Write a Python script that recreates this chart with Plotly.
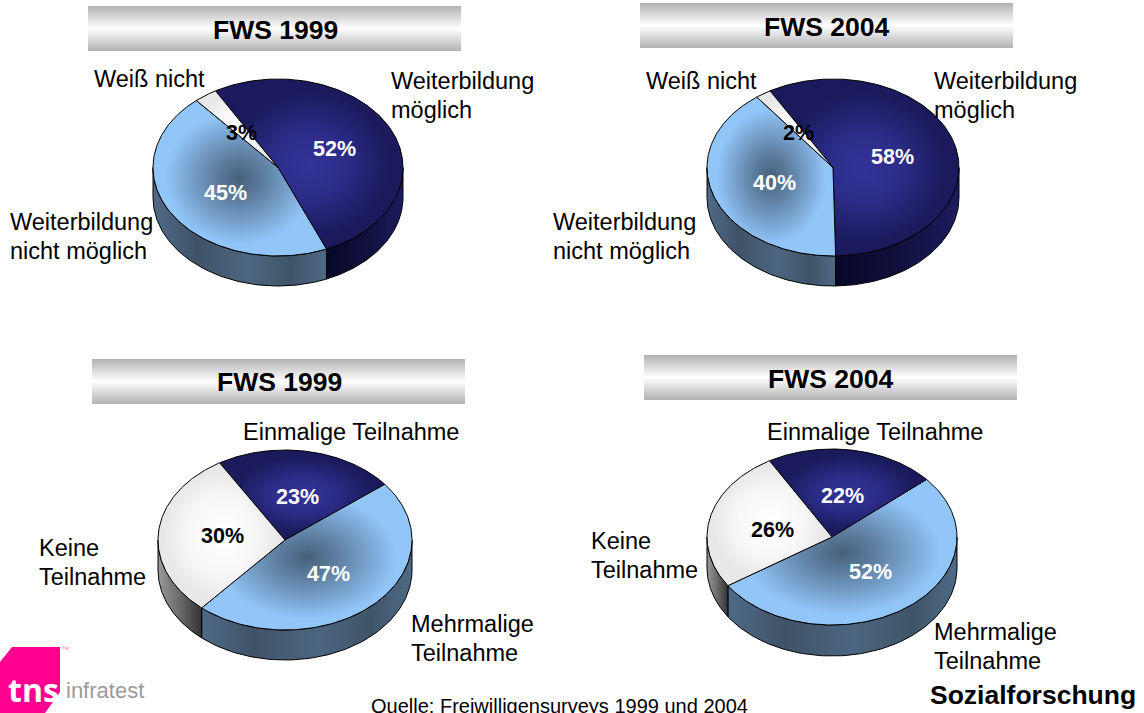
import numpy as np
import plotly.graph_objects as go

# ---- data ----
titles = ["FWS 1999", "FWS 2004", "FWS 1999", "FWS 2004"]
values_1999_a = [52, 45, 3]
values_2004_a = [58, 40, 2]
values_1999_b = [23, 47, 30]
values_2004_b = [22, 52, 26]
labels_a = ["Weiterbildung<br>möglich", "Weiterbildung<br>nicht möglich", "Weiß nicht"]
labels_b = ["Einmalige Teilnahme", "Mehrmalige<br>Teilnahme", "Keine<br>Teilnahme"]
source = "Quelle: Freiwilligensurveys 1999 und 2004"
brand = "Sozialforschung"

# ---- layout of the four pies ----
pies = [
    dict(values=values_1999_a, labels=labels_a, c=(278, 167.5), r=(125, 88.5), depth=30, start=-30,
         bar=(88, 461, 6, 51), title=(275, 30),
         lab=[(389, 95.5), (8, 236.5), (92, 79)], pct=[(334, 149), (225, 193), (241, 133)]),
    dict(values=values_2004_a, labels=labels_a, c=(833, 167.5), r=(126, 88.5), depth=30, start=-30,
         bar=(640, 1013, 3, 48), title=(826, 27),
         lab=[(932, 95.5), (551, 236.5), (644, 81)], pct=[(892, 157), (774, 183), (798, 133)]),
    dict(values=values_1999_b, labels=labels_b, c=(285, 540), r=(127, 90), depth=30, start=-31,
         bar=(92, 465, 359, 404), title=(279, 382),
         lab=[(241, 432), (409, 638), (37, 562)], pct=[(297, 497), (328, 574), (222, 536)]),
    dict(values=values_2004_b, labels=labels_b, c=(832, 537), r=(125, 88), depth=31, start=-30,
         bar=(644, 1017, 355, 400), title=(830, 379),
         lab=[(765, 432), (932, 646), (589, 555)], pct=[(842, 496), (870, 572), (772, 530)]),
]
top_scales = [
    [[0, "#333399"], [0.4, "#2c2c88"], [0.85, "#1a1a5c"], [1, "#1a1a5c"]],
    [[0, "#46607a"], [0.3, "#5f80a2"], [0.6, "#7aa5d0"], [0.85, "#92c5f8"], [1, "#92c5f8"]],
    [[0, "#ffffff"], [0.5, "#f8f8f8"], [0.9, "#e8e8e8"], [1, "#e8e8e8"]],
]
wall_scales = [
    [[0, "#08082a"], [0.5, "#10103c"], [1, "#1c1c60"]],
    [[0, "#4f6a86"], [0.25, "#3f5368"], [0.55, "#4c6680"], [0.8, "#3f5468"], [1, "#4f6a86"]],
    [[0, "#9a9a9a"], [0.5, "#6a6a6a"], [1, "#333333"]],
]
text_colors = ["white", "white", "black"]
FONT = "Liberation Sans, Arial, sans-serif"
LINE_STEP = 29

fig = go.Figure()


def poly(x, y, gradient, line=True):
    fig.add_trace(go.Scatter(
        x=x, y=y, mode="lines", fill="toself", fillgradient=gradient,
        line=dict(color="#000000", width=1) if line else dict(width=0),
        hoverinfo="skip", showlegend=False))


annotations = []


def text(x, y, s, size, color="black", bold=False, xanchor="left", family=FONT):
    annotations.append(dict(
        x=x, y=y, xref="x", yref="y", text=f"<b>{s}</b>" if bold else s, showarrow=False,
        xanchor=xanchor, yanchor="middle", align="left",
        font=dict(family=family, size=size, color=color)))


for title, p in zip(titles, pies):
    cx, cy = p["c"]
    rx, ry = p["r"]
    d = p["depth"]
    ex = lambda a: cx + rx * np.sin(np.radians(a))
    ey = lambda a: cy - ry * np.cos(np.radians(a))

    # title bar
    x0, x1, y0, y1 = p["bar"]
    fig.add_trace(go.Scatter(
        x=[x0, x1, x1, x0, x0], y=[y0, y0, y1, y1, y0], mode="lines", fill="toself",
        fillgradient=dict(type="vertical",
                          colorscale=[[0, "#b2b2b2"], [0.5, "#ffffff"], [1, "#b2b2b2"]]),
        line=dict(width=0), hoverinfo="skip", showlegend=False))

    edges = p["start"] + np.concatenate([[0], np.cumsum(p["values"])]) * 3.6
    # walls
    for i in range(len(p["values"])):
        a0, a1 = edges[i], edges[i + 1]
        lo, hi = max(a0, 90), min(a1, 270)
        if hi > lo:
            t = np.linspace(lo, hi, 90)
            x = np.concatenate([ex(t), ex(t[::-1]), [ex(t[0])]])
            y = np.concatenate([ey(t), ey(t[::-1]) + d, [ey(t[0])]])
            poly(x, y, dict(type="horizontal", colorscale=wall_scales[i]))
    # tops
    for i in range(len(p["values"])):
        t = np.linspace(edges[i], edges[i + 1], 180)
        x = np.concatenate([[cx], ex(t), [cx]])
        y = np.concatenate([[cy], ey(t), [cy]])
        poly(x, y, dict(type="radial", colorscale=top_scales[i]))

    text(p["title"][0], p["title"][1], title, 26.5, bold=True, xanchor="center")
    for s, (lx, ly) in zip(p["labels"], p["lab"]):
        lines = s.split("<br>")
        for k, line in enumerate(lines):
            text(lx, ly + (k - (len(lines) - 1) / 2) * LINE_STEP, line, 23.5)
    for v, col, (lx, ly) in zip(p["values"], text_colors, p["pct"]):
        text(lx, ly, f"{v}%", 21.5, color=col, bold=True, xanchor="center")

# logo
fig.add_shape(type="path",
              path="M 0 662 L 12 647 L 60 647 L 60 692 L 45 713 L 0 713 Z",
              fillcolor="#ff0090", line=dict(width=0), layer="below")
text(6, 689, "tns", 32, color="white", bold=True, family="Open Sans, sans-serif")
text(64, 690, "infratest", 22, color="#9a9a9a", family="Liberation Sans Narrow, Liberation Sans, sans-serif")
text(59, 649, "™", 8, color="#ff80c0")

text(369, 706, source, 20)
text(928, 695, brand, 26.5, bold=True)

fig.update_layout(
    width=1144, height=713, margin=dict(l=0, r=0, t=0, b=0),
    plot_bgcolor="white", paper_bgcolor="white", showlegend=False,
    xaxis=dict(range=[0, 1144], visible=False, fixedrange=True),
    yaxis=dict(range=[713, 0], visible=False, fixedrange=True),
    annotations=annotations,
)
fig.write_html("out.html", config=dict(displayModeBar=False),
               post_script="document.body.style.margin='0';document.body.style.overflow='hidden';")
